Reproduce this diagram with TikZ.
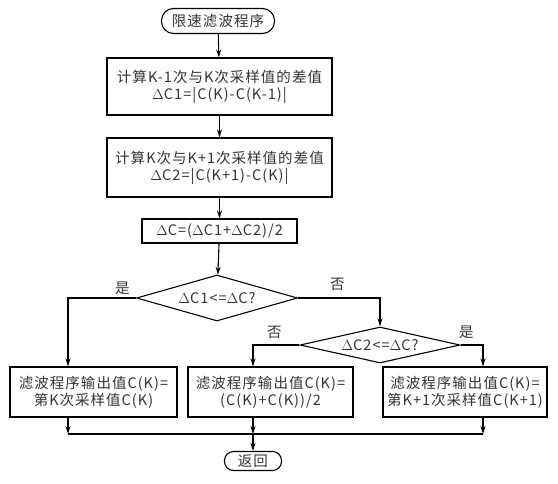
\documentclass[tikz,border=0pt]{standalone}
\usepackage{fontspec}
\setmainfont{Noto Sans CJK SC}[LetterSpace=7]
\usepackage{tikz}
\usetikzlibrary{arrows.meta, shapes.geometric}

\tikzset{
  base/.style={draw, line width=1.1pt, text=black!80, align=center, inner sep=2pt,
    font=\fontsize{14.5}{17}\selectfont},
  proc/.style={base, rectangle, minimum height=57pt},
  term/.style={base, rectangle, rounded corners=#1},
  decide/.style={base, diamond, inner sep=0pt, aspect=#1},
  line/.style={line width=1.1pt},
  flow/.style={line, -{Stealth[length=8pt,width=5pt]}},
  tag/.style={text=black!80, font=\fontsize{14.5}{17}\selectfont, inner sep=1pt}
}

\begin{document}
\begin{tikzpicture}[x=1pt, y=-1pt]
  \useasboundingbox (0,0) rectangle (558,483);
  % start and the three steps
  \node[term=12pt, minimum width=113pt, minimum height=25pt] (start) at (218,21) {限速滤波程序};
  \node[proc, minimum width=225pt] (diff1) at (219.5,86.5) {计算K-1次与K次采样值的差值\\$\Delta$C1=|C(K)-C(K-1)|};
  \node[proc, minimum width=225pt, minimum height=59pt] (diff2) at (219.5,167.5) {计算K次与K+1次采样值的差值\\$\Delta$C2=|C(K+1)-C(K)|};
  \node[base, minimum width=155pt, minimum height=24pt] (mean) at (219.5,231) {$\Delta$C=($\Delta$C1+$\Delta$C2)/2};
  % the two tests
  \node[decide=3.5, minimum width=161pt, minimum height=46pt] (test1) at (217,298) {$\Delta$C1<=$\Delta$C?};
  \node[decide=4.44, minimum width=160pt, minimum height=36pt] (test2) at (380,345) {$\Delta$C2<=$\Delta$C?};
  % the three outputs
  \node[proc, minimum width=167pt, minimum height=50pt] (outL) at (93.5,392) {滤波程序输出值C(K)=\\第K次采样值C(K)};
  \node[proc, minimum width=165pt, minimum height=50pt] (outM) at (270.5,392) {滤波程序输出值C(K)=\\(C(K)+C(K))/2};
  \node[proc, minimum width=164pt, minimum height=50pt] (outR) at (465,392) {滤波程序输出值C(K)=\\第K+1次采样值C(K+1)};
  \node[term=9pt, minimum width=57pt, minimum height=19pt] (back) at (253,461) {返回};
  % joints of the bottom line
  \coordinate (jL) at (68,434);
  \coordinate (jM) at (253,434);
  \coordinate (jR) at (483,434);

  \draw[flow] (start) -- (diff1);
  \draw[flow] (diff1) -- (diff2);
  \draw[flow] (diff2) -- (mean);
  \draw[flow] (mean) -- (test1);
  \draw[flow] (test1.west) -| node[tag, pos=0.1, above=2pt] {是} (jL |- outL.north);
  \draw[flow] (test1.east) -| node[tag, pos=0.24, above=6pt] {否} (test2.north);
  \draw[flow] (test2.west) -| node[tag, pos=0.27, above=5pt] {否} (jM |- outM.north);
  \draw[flow] (test2.east) -| node[tag, pos=0.13, above=5pt] {是} (jR |- outR.north);
  % merge
  \draw[flow] (jL |- outL.south) -- (jL);
  \draw[flow] (jM |- outM.south) -- (jM);
  \draw[flow] (jR |- outR.south) -- (jR);
  \draw[line] (jL) -- (jR);
  \draw[flow] (jM) -- (back);
\end{tikzpicture}
\end{document}
